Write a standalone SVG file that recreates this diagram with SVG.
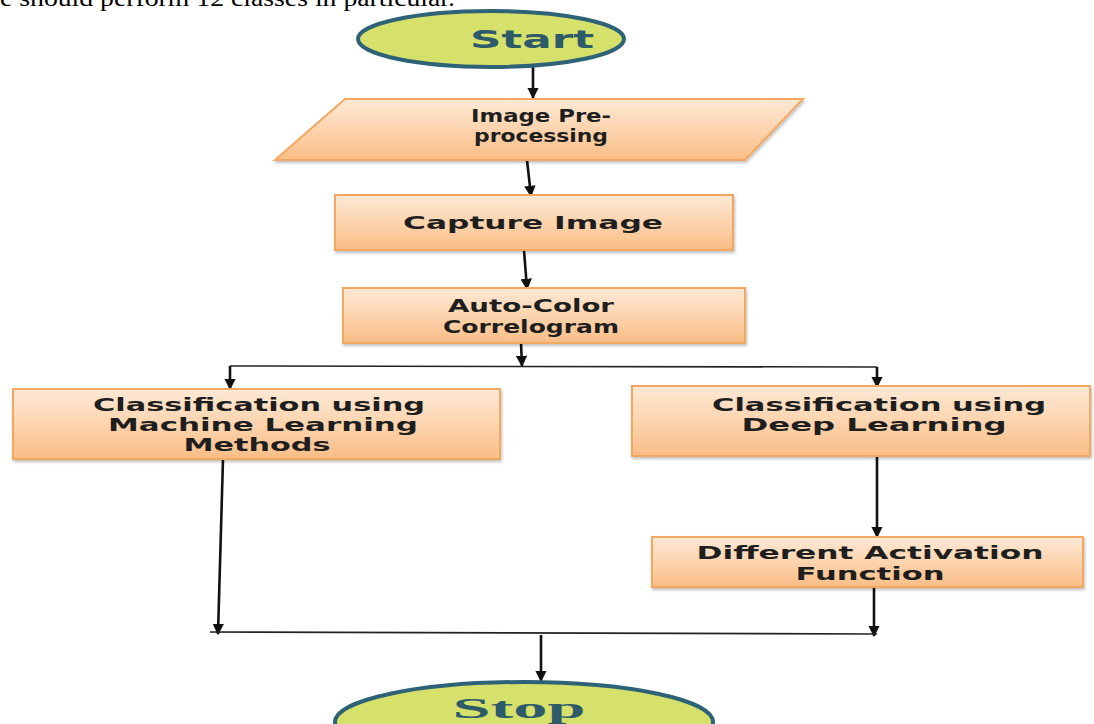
<svg xmlns="http://www.w3.org/2000/svg" width="1094" height="724" viewBox="0 0 1094 724">
<defs>
<linearGradient id="og" x1="0" y1="0" x2="0" y2="1">
<stop offset="0" stop-color="#fde9d6"/>
<stop offset="0.5" stop-color="#fcd4ae"/>
<stop offset="1" stop-color="#f9bd86"/>
</linearGradient>
<marker id="ah" viewBox="0 0 10 10" refX="9" refY="5" markerWidth="4.4" markerHeight="4.4" markerUnits="strokeWidth" orient="auto">
<path d="M0,0 L10,5 L0,10 z" fill="#111"/>
</marker>
<filter id="sh" x="-5%" y="-10%" width="110%" height="130%">
<feDropShadow dx="1" dy="2" stdDeviation="1.5" flood-color="#000" flood-opacity="0.25"/>
</filter>
</defs>
<style>
.box{fill:url(#og);stroke:#f2a860;stroke-width:2;filter:url(#sh)}
.term{fill:#d6e16b;stroke:#2e6377;stroke-width:4}
.lbl{font-family:"DejaVu Sans",Verdana,sans-serif;font-weight:bold;font-size:18px;fill:#1e1e1e;text-anchor:middle}
.tl{font-family:"DejaVu Sans",Verdana,sans-serif;font-weight:bold;font-size:25px;fill:#2e5b6a;text-anchor:middle}
.ar{stroke:#111;stroke-width:2.6;fill:none;marker-end:url(#ah)}
.ln{stroke:#222;stroke-width:1.6;fill:none}
</style>
<text x="0" y="6" font-family="Liberation Serif, serif" font-size="24" fill="#000" textLength="455" lengthAdjust="spacingAndGlyphs">e should perform 12 classes in particular.</text>
<g id="connectors">
<line class="ar" x1="533" y1="66" x2="533" y2="98"/>
<line class="ar" x1="527" y1="160" x2="531" y2="196"/>
<line class="ar" x1="524" y1="250" x2="527" y2="289"/>
<line class="ar" x1="521" y1="343" x2="522" y2="366"/>
<polyline class="ln" points="230,366 877,367"/>
<line class="ar" x1="230" y1="366" x2="230" y2="389"/>
<line class="ar" x1="877" y1="367" x2="877" y2="387"/>
<line class="ar" x1="223" y1="459" x2="218" y2="634"/>
<line class="ar" x1="877" y1="456" x2="877" y2="537"/>
<line class="ar" x1="874" y1="587" x2="874" y2="636"/>
<polyline class="ln" points="210,632 877,634"/>
<line class="ar" x1="541" y1="635" x2="541" y2="681"/>
</g>
<g id="start">
<ellipse class="term" cx="491" cy="39" rx="133" ry="28"/>
<text class="tl" x="532" y="48" textLength="124" lengthAdjust="spacingAndGlyphs">Start</text>
</g>
<g id="preprocessing">
<polygon class="box" points="345,99 803,99 745,160 275,160"/>
<text class="lbl" x="541" y="122" textLength="140" lengthAdjust="spacingAndGlyphs">Image Pre-</text>
<text class="lbl" x="541" y="142" textLength="134" lengthAdjust="spacingAndGlyphs">processing</text>
</g>
<g id="capture">
<rect class="box" x="335" y="195" width="398" height="55"/>
<text class="lbl" x="533" y="229" textLength="260" lengthAdjust="spacingAndGlyphs">Capture Image</text>
</g>
<g id="correlogram">
<rect class="box" x="343" y="288" width="402" height="55"/>
<text class="lbl" x="531" y="312" textLength="166" lengthAdjust="spacingAndGlyphs">Auto-Color</text>
<text class="lbl" x="531" y="333" textLength="176" lengthAdjust="spacingAndGlyphs">Correlogram</text>
</g>
<g id="ml">
<rect class="box" x="13" y="389" width="487" height="70"/>
<text class="lbl" x="259" y="411" textLength="332" lengthAdjust="spacingAndGlyphs">Classification using</text>
<text class="lbl" x="263" y="431" textLength="310" lengthAdjust="spacingAndGlyphs">Machine Learning</text>
<text class="lbl" x="257" y="451" textLength="147" lengthAdjust="spacingAndGlyphs">Methods</text>
</g>
<g id="dl">
<rect class="box" x="632" y="386" width="458" height="70"/>
<text class="lbl" x="879" y="411" textLength="334" lengthAdjust="spacingAndGlyphs">Classification using</text>
<text class="lbl" x="874" y="431" textLength="265" lengthAdjust="spacingAndGlyphs">Deep Learning</text>
</g>
<g id="activation">
<rect class="box" x="652" y="537" width="431" height="50"/>
<text class="lbl" x="870" y="559" textLength="347" lengthAdjust="spacingAndGlyphs">Different Activation</text>
<text class="lbl" x="870" y="580" textLength="149" lengthAdjust="spacingAndGlyphs">Function</text>
</g>
<g id="stop">
<ellipse class="term" cx="524" cy="722" rx="189" ry="40"/>
<text x="519" y="718" font-family="Liberation Serif, serif" font-weight="bold" font-size="30" fill="#2e5b6a" text-anchor="middle" textLength="133" lengthAdjust="spacingAndGlyphs">Stop</text>
</g>
</svg>
